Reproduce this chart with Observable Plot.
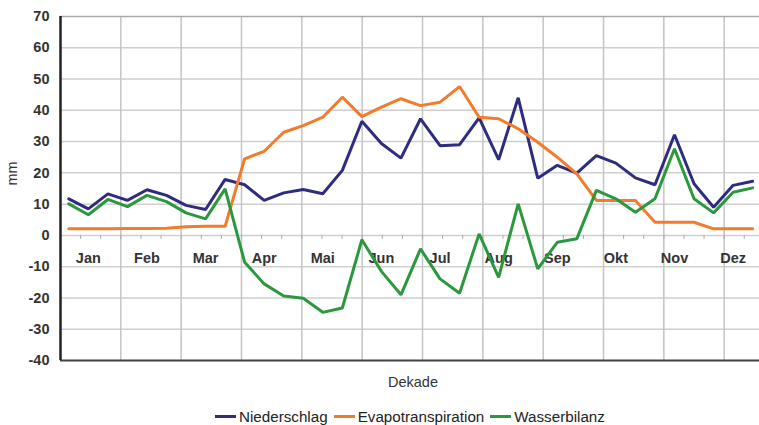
<!DOCTYPE html>
<html>
<head>
<meta charset="utf-8">
<script src="https://cdn.jsdelivr.net/npm/d3@7"></script>
<script src="https://cdn.jsdelivr.net/npm/@observablehq/plot@0.6"></script>
<style>
  html, body { margin: 0; padding: 0; background: #fff; }
  #wrap { position: relative; width: 759px; height: 425px; overflow: hidden; font-family: "Liberation Sans", Arial, sans-serif; }
  #legend { position: absolute; left: 215px; top: 408px; display: flex; align-items: center; font-size: 15.2px; color: #222; white-space: nowrap; }
  #legend .item { display: flex; align-items: center; margin-right: 6px; }
  #legend .sw { display: inline-block; width: 21px; height: 3px; margin-right: 3px; }
</style>
</head>
<body>
<div id="wrap"><div id="chart"></div><div id="legend"></div></div>
<script>
// ---- data (36 Dekaden) ----
const dekade = d3.range(1, 37);
const niederschlag = [11.7, 8.5, 13.3, 11.2, 14.6, 12.8, 9.6, 8.3, 17.9,
  16.2, 11.2, 13.6, 14.7, 13.3, 20.8, 36.5, 29.4, 24.7,
  37.3, 28.7, 29.0, 37.6, 24.2, 44.0, 18.3, 22.4, 19.9,
  25.5, 23.1, 18.4, 16.2, 32.2, 16.5, 9.0, 16.0, 17.3];
const evapotranspiration = [2.1, 2.1, 2.1, 2.2, 2.2, 2.3, 2.8, 2.9, 2.9,
  24.5, 26.9, 33.0, 35.1, 37.8, 44.2, 38.0, 41.0, 43.7,
  41.5, 42.6, 47.6, 37.8, 37.3, 34.1, 29.8, 25.0, 19.7,
  11.2, 11.2, 11.2, 4.2, 4.2, 4.2, 2.1, 2.1, 2.1];
const wasserbilanz = [10.1, 6.6, 11.5, 9.2, 12.8, 10.8, 7.2, 5.3, 14.9,
  -8.6, -15.5, -19.4, -20.1, -24.6, -23.2, -1.4, -11.5, -19.0,
  -4.3, -13.9, -18.5, 0.5, -13.4, 10.1, -10.7, -2.2, -1.1,
  14.4, 11.7, 7.4, 11.7, 27.7, 11.7, 7.2, 13.8, 15.2];
const monate = ["Jan", "Feb", "Mar", "Apr", "Mai", "Jun", "Jul", "Aug", "Sep", "Okt", "Nov", "Dez"];
const yTicks = d3.range(-40, 71, 10);
const serien = ["Niederschlag", "Evapotranspiration", "Wasserbilanz"];
const farben = ["#2f2c80", "#f47a2c", "#2b983d"];

// ---- build table ----
const rows = [];
[niederschlag, evapotranspiration, wasserbilanz].forEach((vals, s) => {
  vals.forEach((v, i) => rows.push({serie: serien[s], dekade: dekade[i], wert: v}));
});
const monthLabels = monate.map((m, k) => ({m, x: dekade[3 * k + 1]}));

// axis geometry: category boundaries (3 per month)
const xDomain = [0.575, 36.35];
const catStep = 1.0293;
const catBounds = d3.range(37).map(j => xDomain[0] + catStep * j).filter(v => v <= xDomain[1]);
const monthBounds = catBounds.filter((v, j) => j % 3 === 0 && j > 0);

const chart = Plot.plot({
  width: 759,
  height: 400,
  marginLeft: 60,
  marginRight: 0,
  marginTop: 16,
  marginBottom: 40,
  style: {fontFamily: "Liberation Sans, Arial, sans-serif", fontSize: "14.5px", color: "#222", background: "#fff"},
  x: {domain: xDomain, axis: null},
  y: {domain: [-40, 70], axis: null},
  color: {domain: serien, range: farben},
  marks: [
    Plot.ruleY(yTicks.filter(d => d > -40 && d < 70), {stroke: "#cfcfcf", strokeWidth: 1.5}),
    Plot.ruleX(monthBounds, {stroke: "#c4c4c4", strokeWidth: 1.5}),
    Plot.ruleY([70], {stroke: "#aaaaaa", strokeWidth: 1.5}),
    Plot.ruleY([-40], {stroke: "#444", strokeWidth: 2}),
    Plot.ruleX(catBounds, {y1: 0, y2: -1.3, stroke: "#aaa", strokeWidth: 1}),
    Plot.ruleX([xDomain[0]], {stroke: "#222", strokeWidth: 2.5}),
    Plot.text(yTicks, {x: xDomain[0], y: d => d, text: d => String(d), textAnchor: "end", dx: -11, fill: "#333", fontWeight: "bold", fontSize: 14.5}),
    Plot.text(monthLabels, {x: "x", y: 0, text: "m", dy: 23, fill: "#333", fontWeight: "bold", fontSize: 14.5}),
    Plot.line(rows, {x: "dekade", y: "wert", z: "serie", stroke: "serie", strokeWidth: 3, strokeLinejoin: "miter"}),
    Plot.text(["mm"], {frameAnchor: "left", dx: -48, dy: -3, rotate: -90, fill: "#333", fontSize: 14.5}),
    Plot.text(["Dekade"], {frameAnchor: "bottom", dx: 3, dy: 26, fill: "#333", fontSize: 14.5})
  ]
});
document.getElementById("chart").appendChild(chart);

const legend = document.getElementById("legend");
serien.forEach((s, k) => {
  const it = document.createElement("span");
  it.className = "item";
  it.innerHTML = `<span class="sw" style="background:${farben[k]}"></span>${s}`;
  legend.appendChild(it);
});
</script>
</body>
</html>
